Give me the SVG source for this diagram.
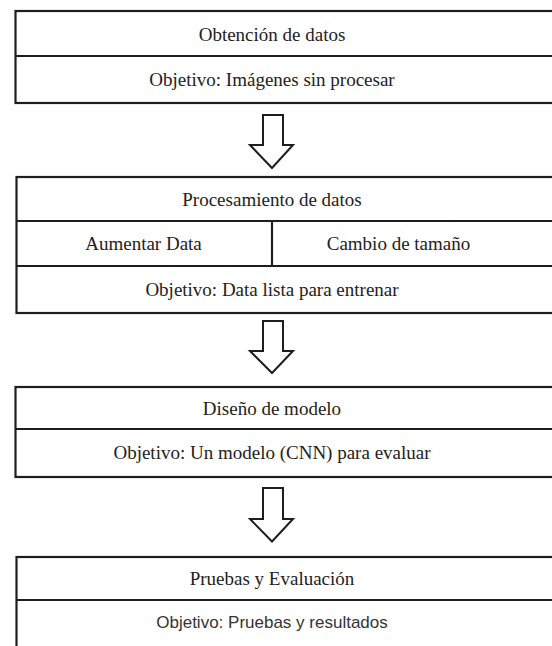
<svg xmlns="http://www.w3.org/2000/svg" width="552" height="646" viewBox="0 0 552 646">
<style>
.box{fill:#fff;stroke:#1e1e1e;stroke-width:2.2}
.ln{stroke:#1e1e1e;stroke-width:2.2;fill:none}
.t{font-size:19px;fill:#222;text-anchor:middle}
.s{font-size:17px;fill:#333;text-anchor:middle}
.arrow{fill:#fff;stroke:#1e1e1e;stroke-width:2;stroke-linejoin:miter}
</style>
<rect width="552" height="646" fill="#fff"/>
<g id="node-obtencion" font-family="Liberation Serif, DejaVu Serif, serif">
<rect class="box" x="15.5" y="11" width="560" height="92"/>
<line class="ln" x1="15.5" y1="56" x2="576" y2="56"/>
<text class="t" x="272" y="40.5">Obtención de datos</text>
<text class="t" x="272" y="86">Objetivo: Imágenes sin procesar</text>
</g>
<g id="node-procesamiento" font-family="Liberation Serif, DejaVu Serif, serif">
<rect class="box" x="16.5" y="177" width="560" height="136"/>
<line class="ln" x1="16.5" y1="221" x2="577" y2="221"/>
<line class="ln" x1="16.5" y1="266" x2="577" y2="266"/>
<line class="ln" x1="272" y1="221" x2="272" y2="266"/>
<text class="t" x="272" y="205.5">Procesamiento de datos</text>
<text class="t" x="143.5" y="250">Aumentar Data</text>
<text class="t" x="398.5" y="250">Cambio de tamaño</text>
<text class="t" x="272" y="295.5">Objetivo: Data lista para entrenar</text>
</g>
<g id="node-diseno" font-family="Liberation Serif, DejaVu Serif, serif">
<rect class="box" x="15.5" y="387" width="560" height="90"/>
<line class="ln" x1="15.5" y1="429" x2="576" y2="429"/>
<text class="t" x="272" y="414.5">Diseño de modelo</text>
<text class="t" x="272" y="459">Objetivo: Un modelo (CNN) para evaluar</text>
</g>
<g id="node-pruebas" font-family="Liberation Serif, DejaVu Serif, serif">
<rect class="box" x="16.5" y="557" width="560" height="100"/>
<line class="ln" x1="16.5" y1="600" x2="577" y2="600"/>
<text class="t" x="272" y="585">Pruebas y Evaluación</text>
<text class="s" x="272" y="628" font-family="Liberation Sans, Arial, sans-serif">Objetivo: Pruebas y resultados</text>
</g>
<g id="connectors">
<path class="arrow" d="M263,115 H283 V145 H293 L272,168 L250,145 H263 Z"/>
<path class="arrow" d="M263,321 H283 V351 H293 L272,373 L250,351 H263 Z"/>
<path class="arrow" d="M263,488 H283 V519 H293 L272,541.5 L250,519 H263 Z"/>
</g>
</svg>
